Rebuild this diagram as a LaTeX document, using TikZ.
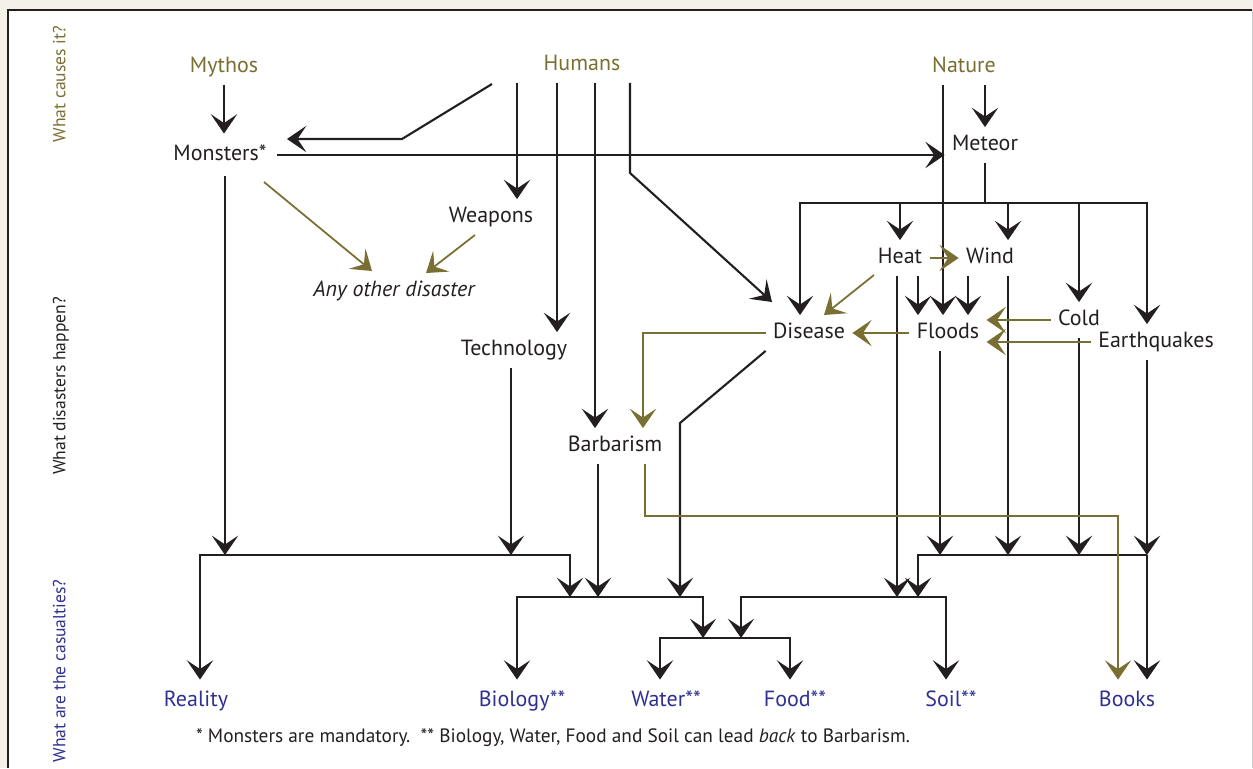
\documentclass[tikz,border=0pt]{standalone}
\usepackage{fontspec}
\setmainfont{PT Sans}
\usepackage{tikz}
\usetikzlibrary{arrows.meta}
\usetikzlibrary{calc}
\definecolor{ink}{RGB}{35,31,32}
\definecolor{causecol}{RGB}{122,111,50}
\definecolor{losscol}{RGB}{46,49,146}
\definecolor{paper}{RGB}{244,241,232}
\tikzset{
  lbl/.style={inner sep=4pt, text height=9pt, text depth=3pt, font=\fontsize{12.5}{15}\selectfont, text=ink},
  cause/.style={lbl, text=causecol},
  loss/.style={lbl, text=losscol, inner sep=6pt},
  other/.style={lbl, font=\fontsize{12.5}{15}\selectfont\itshape},
  side/.style={lbl, rotate=90, font=\fontsize{10}{12}\selectfont},
  link/.style={draw=ink, line width=1.2pt},
  arr/.style={link, -{Stealth[length=11pt,width=15pt,inset=5pt]}},
  oarr/.style={arr, draw=causecol, line width=1pt},
}

\begin{document}
\begin{tikzpicture}[x=0.02cm,y=-0.02cm]
            \fill[paper] (0,0) rectangle (1253,768);
            \useasboundingbox (0,0) rectangle (1253,768);
            \fill[white] (8,10) rectangle (1253,768);
            \draw[ink, line width=0.7pt] (8,768) -- (8,10) -- (1252,10);
            \draw[gray!40, line width=0.5pt] (1252,10) -- (1252,768);
            \foreach \n/\x in {mon/225, real/200, tech/511, wpn/517, tec/557, jl/570, bar/595, bdn/598, hdi/630, dis/680, wat/660, jw/703, jr/741, fd/790, drop/800, hot/897, hf/918, fl/940, nat/943, soil/946, wf/968, wnd/1008, cld/1079, bk/1118, eq/1147, oa/643, ob/645}
                \coordinate (c\n) at (\x,0);
            \foreach \n/\y in {hd/173, met/203, dg/423, ol/516, a/555, b/597, c/638}
                \coordinate (r\n) at (0,\y);
            \coordinate (hm1) at (492,84);
            \coordinate (hm2) at (402,139);
            \coordinate (hm3) at (287,139);
            \coordinate (hdtip) at (772,302);
            \coordinate (mo1) at (264,182);
            \coordinate (mo2) at (372,271);
            \coordinate (wo1) at (475,235);
            \coordinate (wo2) at (426,273);
            \coordinate (ho1) at (874,275);
            \coordinate (ho2) at (824,315);

            \node[side, text=causecol] (askcause) at (60,84) {What causes it?};
            \node[side] (askdis) at (60,386) {What disasters happen?};
            \node[side, text=losscol] (askloss) at (60,671) {What are the casualties?};

            \node[cause] (mythos) at (224,67) {Mythos};
            \node[cause] (humans) at (582,65) {Humans};
            \node[cause] (nature) at (964,67) {Nature};
            \node[lbl, inner sep=6pt] (monsters) at (220,155) {Monsters*};
            \node[lbl] (meteor) at (985,145) {Meteor};
            \node[lbl] (weapons) at (491,217) {Weapons};
            \node[other] (anyother) at (394,291) {Any other disaster};
            \node[lbl] (heat) at (900,258) {Heat};
            \node[lbl] (wind) at (990,258) {Wind};
            \node[lbl] (disease) at (809,333) {Disease};
            \node[lbl] (floods) at (948,333) {Floods};
            \node[lbl] (cold) at (1079,320) {Cold};
            \node[lbl] (quakes) at (1156,342) {Earthquakes};
            \node[lbl] (tech) at (514,350) {Technology};
            \node[lbl] (barb) at (615,446) {Barbarism};
            \node[loss] (reality) at (196,701) {Reality};
            \node[loss] (biology) at (522,701) {Biology**};
            \node[loss] (water) at (666,701) {Water**};
            \node[loss] (food) at (795,701) {Food**};
            \node[loss] (soil) at (951,701) {Soil**};
            \node[loss] (books) at (1127,701) {Books};
            \node[lbl, font=\fontsize{11}{13}\selectfont] (note) at (553,737) {* Monsters are mandatory.\ \ ** Biology, Water, Food and Soil can lead \textit{back} to Barbarism.};

            \draw[arr] (mythos.south) -- (mythos.south |- monsters.north);
            \draw[arr] (hm1) -- (hm2) -- (hm3);
            \draw[arr] (monsters.east) -- (monsters.east -| meteor.west);
            \draw[arr] (cwpn |- humans.south) -- (cwpn |- weapons.north);
            \draw[arr] (ctec |- humans.south) -- (ctec |- tech.north);
            \draw[arr] (cbar |- humans.south) -- (cbar |- barb.north);
            \draw[arr] (chdi |- humans.south) -- (chdi |- rhd) -- (hdtip);
            \draw[arr] (cnat |- nature.south) -- (cnat |- floods.north);
            \draw[arr] (nature.south -| meteor) -- (meteor.north);

            \draw[link] (meteor.south) -- (meteor |- rmet);
            \draw[arr] (meteor |- rmet) -- (cdrop |- rmet) -- (cdrop |- disease.north);
            \draw[arr] (meteor |- rmet) -- (ceq |- rmet) -- (ceq |- quakes.north);
            \draw[arr] (heat.north |- rmet) -- (heat.north);
            \draw[arr] (cwnd |- rmet) -- (cwnd |- wind.north);
            \draw[arr] (ccld |- rmet) -- (ccld |- cold.north);

            \draw[arr] (chf |- heat.south) -- (chf |- floods.north);
            \draw[arr] (cwf |- wind.south) -- (cwf |- floods.north);
            \draw[arr] (chot |- heat.south) -- (chot |- rb);
            \draw[arr] (cwnd |- wind.south) -- (cwnd |- ra);
            \draw[arr] (cfl |- floods.south) -- (cfl |- ra);
            \draw[arr] (ccld |- cold.south) -- (ccld |- ra);
            \draw[arr] (ceq |- quakes.south) -- (ceq |- ra);
            \draw[arr] (ceq |- ra) -- (chf |- ra) -- (chf |- rb);
            \draw[arr] (ceq |- ra) -- (ceq |- books.north);
            \draw[arr] (chf |- rb) -- (cjr |- rb) -- (cjr |- rc);
            \draw[arr] (chf |- rb) -- (csoil |- rb) -- (csoil |- soil.north);

            \draw[arr] (cmon |- monsters.south) -- (cmon |- ra);
            \draw[arr] (ctech |- tech.south) -- (ctech |- ra);
            \draw[arr] (ctech |- ra) -- (creal |- ra) -- (creal |- reality.north);
            \draw[arr] (ctech |- ra) -- (cjl |- ra) -- (cjl |- rb);
            \draw[arr] (cbdn |- barb.south) -- (cbdn |- rb);
            \draw[arr] (disease.south west) -- (cdis |- rdg) -- (cdis |- rb);
            \draw[arr] (cbdn |- rb) -- (cwpn |- rb) -- (cwpn |- biology.north);
            \draw[arr] (cbdn |- rb) -- (cjw |- rb) -- (cjw |- rc);
            \draw[arr] (cjw |- rc) -- (cwat |- rc) -- (cwat |- water.north);
            \draw[arr] (cjw |- rc) -- (cfd |- rc) -- (cfd |- food.north);

            \draw[oarr] (mo1) -- (mo2);
            \draw[oarr] (wo1) -- (wo2);
            \draw[oarr] (heat.east) -- (wind.west);
            \draw[oarr] (ho1) -- (ho2);
            \draw[oarr] (floods.west) -- (disease.east);
            \draw[oarr] (cold.west) -- (cold.west -| floods.east);
            \draw[oarr] (quakes.west) -- (quakes.west -| floods.east);
            \draw[oarr] (disease.west) -- (disease.west -| coa) -- (coa |- barb.north);
            \draw[oarr] (cob |- barb.south) -- (cob |- rol) -- (cbk |- rol) -- (cbk |- books.north);
        \end{tikzpicture}
\end{document}
